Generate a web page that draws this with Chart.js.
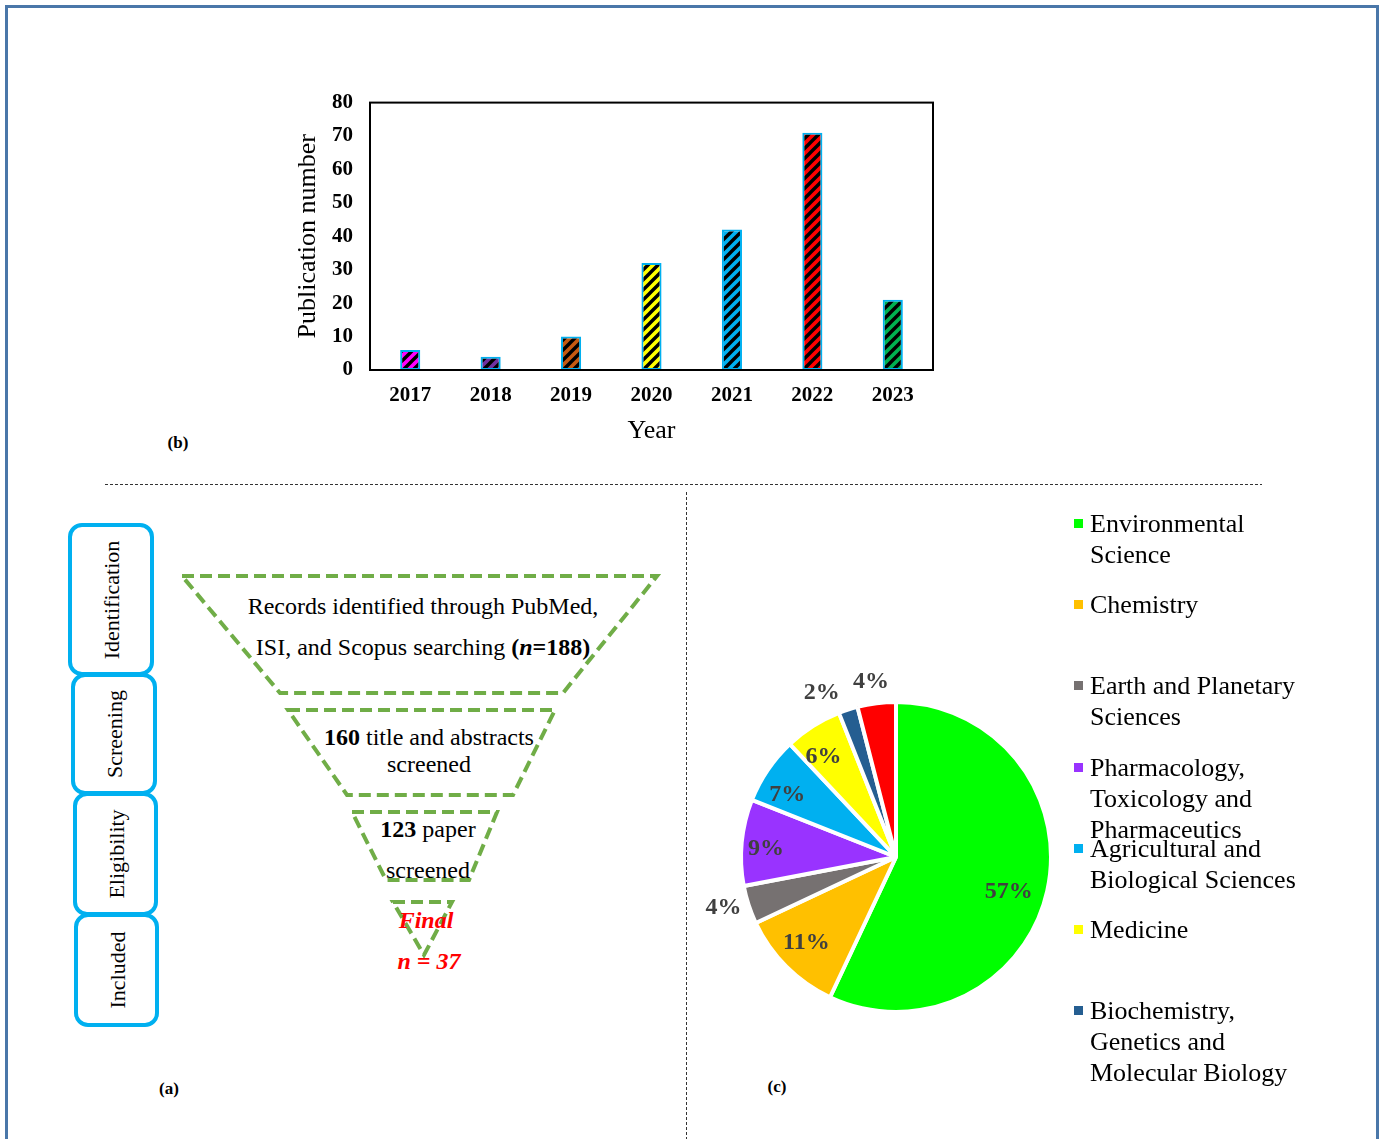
<!DOCTYPE html>
<html>
<head>
<meta charset="utf-8">
<script src="https://cdn.jsdelivr.net/npm/chart.js@4.4.1/dist/chart.umd.min.js"></script>
<style>
  body { margin: 0; background: #fff; }
  #page { position: relative; width: 1381px; height: 1139px; overflow: hidden; font-family: "Times New Roman", "Liberation Serif", serif; }
  #frame { position: absolute; left: 0; top: 0; }
  #barBox { position: absolute; left: 290px; top: 73px; width: 670px; height: 385px; }
  #pieBox { position: absolute; left: 686px; top: 647px; width: 420px; height: 420px; }
  #legend { position: absolute; left: 1070px; top: 508px; width: 311px; height: 600px; overflow: hidden; }
  .item { position: relative; height: 81.2px; }
  .swatch { position: absolute; left: 4px; top: 11px; width: 9px; height: 9px; }
  .label { position: absolute; left: 20px; top: 0; font-size: 26px; line-height: 31px; color: #000; white-space: nowrap; }
</style>
</head>
<body>
<div id="page">
  <svg id="frame" width="1381" height="1139" font-family="Times New Roman, Liberation Serif, serif">
    <!-- outer frame -->
    <rect x="6.5" y="6.5" width="1371" height="1160" fill="none" stroke="#4a77a9" stroke-width="3"/>
    <!-- panel separators -->
    <line x1="105" y1="484.5" x2="1262" y2="484.5" stroke="#333" stroke-width="1" stroke-dasharray="3,2"/>
    <line x1="686.5" y1="492" x2="686.5" y2="1139" stroke="#333" stroke-width="1" stroke-dasharray="3,2"/>
    <!-- panel tags -->
    <text x="178" y="448" font-size="17" font-weight="bold" text-anchor="middle">(b)</text>
    <text x="169" y="1094" font-size="17" font-weight="bold" text-anchor="middle">(a)</text>
    <text x="777" y="1092" font-size="17" font-weight="bold" text-anchor="middle">(c)</text>

    <!-- stage boxes -->
    <g fill="none">
      <rect x="70" y="525" width="82" height="149" rx="12" stroke="#00b0f0" stroke-width="4"/>
      <rect x="73" y="675" width="82" height="118" rx="12" stroke="#00b0f0" stroke-width="4"/>
      <rect x="75" y="794" width="81" height="120" rx="12" stroke="#00b0f0" stroke-width="4"/>
      <rect x="76" y="915" width="81" height="110" rx="12" stroke="#00b0f0" stroke-width="4"/>
    </g>
    <g font-size="22" text-anchor="middle" dominant-baseline="central" fill="#000">
      <text transform="translate(111,600) rotate(-90)">Identification</text>
      <text transform="translate(114,734) rotate(-90)">Screening</text>
      <text transform="translate(116,854) rotate(-90)">Eligibility</text>
      <text transform="translate(117,970) rotate(-90)">Included</text>
    </g>

    <!-- funnel -->
    <g fill="none" stroke="#70ad47" stroke-width="4" stroke-dasharray="12,6">
      <polygon points="182,576 657,576 563,693 280,693"/>
      <polygon points="288,710 555,710 513,795 347,795"/>
      <polygon points="352,812 497,812 469,880 386,880"/>
      <polygon points="393,902 452,902 424,955"/>
    </g>
    <g font-size="24" text-anchor="middle" fill="#000">
      <text x="423" y="614">Records identified through PubMed,</text>
      <text x="423" y="655">ISI, and Scopus searching <tspan font-weight="bold">(<tspan font-style="italic">n</tspan>=188)</tspan></text>
      <text x="429" y="745"><tspan font-weight="bold">160</tspan> title and abstracts</text>
      <text x="429" y="772">screened</text>
      <text x="428" y="837"><tspan font-weight="bold">123</tspan> paper</text>
      <text x="428" y="878">screened</text>
      <text x="426" y="928" fill="#ff0000" font-weight="bold" font-style="italic">Final</text>
      <text x="429" y="969" fill="#ff0000" font-weight="bold" font-style="italic">n = 37</text>
    </g>
  </svg>

  <div id="barBox"><canvas id="barChart"></canvas></div>
  <div id="pieBox"><canvas id="pieChart"></canvas></div>
  <div id="legend"></div>
</div>

<script>
// publications per year
const years = ["2017", "2018", "2019", "2020", "2021", "2022", "2023"];
const publications = [6, 4, 10, 32, 42, 71, 21];
const yearColors = ["#ff00ff", "#7030a0", "#c55a11", "#ffff00", "#00b0f0", "#ff0000", "#00b050"];

// subject areas (percent of included papers)
const subjects = [
  ["Environmental", "Science"],
  ["Chemistry"],
  ["Earth and Planetary", "Sciences"],
  ["Pharmacology,", "Toxicology and", "Pharmaceutics"],
  ["Agricultural and", "Biological Sciences"],
  ["Medicine"],
  ["Biochemistry,", "Genetics and", "Molecular Biology"],
  ["Others"]
];
const subjectShare = [57, 11, 4, 9, 7, 6, 2, 4];
const subjectColors = ["#00ff00", "#ffc000", "#767171", "#9933ff", "#00b0f0", "#ffff00", "#255e91", "#ff0000"];
// the legend column only has room for the first seven areas
const legendCount = 7;

// where each percentage sits, as a fraction of the radius, plus a small angle nudge (deg)
const labelRadius = [0.76, 0.80, 1.16, 0.84, 0.81, 0.80, 1.16, 1.14];
const labelNudge = [4.4, 1.3, 1.7, -1.8, -4.3, -3.4, -6.4, -0.9];

const serif = "'Times New Roman', 'Liberation Serif', serif";

// coloured fill with black diagonal hatching
function stripes(color) {
  const n = 10;
  const c = document.createElement("canvas");
  c.width = n;
  c.height = n;
  const g = c.getContext("2d");
  g.fillStyle = color;
  g.fillRect(0, 0, n, n);
  g.strokeStyle = "#000";
  g.lineWidth = 3.4;
  g.beginPath();
  g.moveTo(-2, n + 2); g.lineTo(n + 2, -2);
  g.moveTo(-2, 2); g.lineTo(2, -2);
  g.moveTo(n - 2, n + 2); g.lineTo(n + 2, n - 2);
  g.stroke();
  return g.createPattern(c, "repeat");
}

// box round the plot area
const plotFrame = {
  id: "plotFrame",
  afterDraw(chart) {
    const a = chart.chartArea;
    const ctx = chart.ctx;
    ctx.save();
    ctx.strokeStyle = "#000";
    ctx.lineWidth = 2;
    ctx.strokeRect(a.left, a.top, a.right - a.left, a.bottom - a.top);
    ctx.restore();
  }
};

new Chart(document.getElementById("barChart"), {
  type: "bar",
  data: {
    labels: years,
    datasets: [{
      data: publications,
      backgroundColor: yearColors.map(stripes),
      borderColor: "#00b0f0",
      borderWidth: 2,
      borderSkipped: false,
      categoryPercentage: 1,
      barPercentage: 0.25
    }]
  },
  options: {
    responsive: true,
    maintainAspectRatio: false,
    animation: false,
    layout: { padding: { top: 0, right: 27 } },
    plugins: { legend: { display: false }, tooltip: { enabled: false } },
    scales: {
      x: {
        grid: { display: false, drawTicks: false },
        border: { display: false },
        ticks: { color: "#000", padding: 13, font: { family: serif, size: 21, weight: "bold" } },
        title: { display: true, text: "Year", color: "#000", font: { family: serif, size: 26 }, padding: { top: 4, bottom: 11 } },
        afterFit(scale) { scale.height = 88; }
      },
      y: {
        min: 0,
        max: 80,
        grid: { display: false, drawTicks: false },
        border: { display: false },
        ticks: { stepSize: 10, color: "#000", padding: 17, font: { family: serif, size: 21, weight: "bold" } },
        title: { display: true, text: "Publication number", color: "#000", font: { family: serif, size: 26 }, padding: { top: 3, bottom: 4 } },
        afterFit(scale) { scale.width = 80; }
      }
    }
  },
  plugins: [plotFrame]
});

// percentage labels on / beside the slices
const sliceLabels = {
  id: "sliceLabels",
  afterDatasetsDraw(chart) {
    const ctx = chart.ctx;
    const arcs = chart.getDatasetMeta(0).data;
    ctx.save();
    ctx.font = "bold 24px " + serif;
    ctx.fillStyle = "#404040";
    ctx.textAlign = "center";
    ctx.textBaseline = "middle";
    arcs.forEach((arc, i) => {
      const mid = (arc.startAngle + arc.endAngle) / 2 + labelNudge[i] * Math.PI / 180;
      const r = arc.outerRadius * labelRadius[i];
      ctx.fillText(subjectShare[i] + "%", arc.x + Math.cos(mid) * r, arc.y + Math.sin(mid) * r);
    });
    ctx.restore();
  }
};

new Chart(document.getElementById("pieChart"), {
  type: "pie",
  data: {
    labels: subjects.map(s => s.join(" ")),
    datasets: [{
      data: subjectShare,
      backgroundColor: subjectColors,
      borderColor: "#fff",
      borderWidth: 4
    }]
  },
  options: {
    responsive: true,
    maintainAspectRatio: false,
    animation: false,
    layout: { padding: 53 },
    plugins: { legend: { display: false }, tooltip: { enabled: false } }
  },
  plugins: [sliceLabels]
});

// legend column beside the pie
const legend = document.getElementById("legend");
subjects.slice(0, legendCount).forEach((lines, i) => {
  const item = document.createElement("div");
  item.className = "item";
  const sw = document.createElement("div");
  sw.className = "swatch";
  sw.style.background = subjectColors[i];
  const lab = document.createElement("div");
  lab.className = "label";
  lab.innerHTML = lines.join("<br>");
  item.appendChild(sw);
  item.appendChild(lab);
  legend.appendChild(item);
});
</script>
</body>
</html>
